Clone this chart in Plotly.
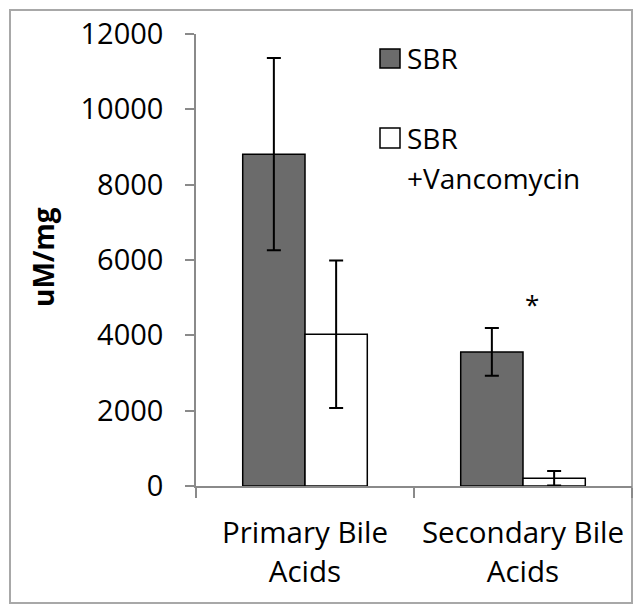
import plotly.graph_objects as go

# ---- data ----
categories = ["Primary Bile<br>Acids", "Secondary Bile<br>Acids"]
series_names = ["SBR", "SBR", "+Vancomycin"]
sbr_values = [8810, 3560]
sbr_errors = [2550, 635]
vanc_values = [4030, 205]
vanc_errors = [1960, 195]
y_ticks = [0, 2000, 4000, 6000, 8000, 10000, 12000]
y_tick_labels = ["0", "2000", "4000", "6000", "8000", "10000", "12000"]
y_title = "uM/mg"
sig_category = categories[1]
sig_value = 4885
sig_label = "*"

# ---- layout geometry (pixels, in page coordinates) ----
OFF = 8                     # default body margin of the html page
W, H = 641 - OFF, 612 - OFF  # figure size so the page fits the window
L, R, T, B = 196, 632, 34, 486  # plot area edges on the page


def px_x(p):
    return (p - L) / (R - L)


def px_y(p):
    return (B - p) / (B - T)


FONT = "Open Sans, Liberation Sans, Arial, sans-serif"
DARK = "#6b6b6b"

fig = go.Figure()
fig.add_trace(go.Bar(
    x=categories, y=sbr_values, name=series_names[0],
    marker=dict(color=DARK, line=dict(color="black", width=1.5)),
    error_y=dict(type="data", array=sbr_errors, visible=True,
                 color="black", thickness=2, width=7),
    showlegend=False,
))
fig.add_trace(go.Bar(
    x=categories, y=vanc_values, name=series_names[1] + " " + series_names[2],
    marker=dict(color="white", line=dict(color="black", width=1.5)),
    error_y=dict(type="data", array=vanc_errors, visible=True,
                 color="black", thickness=2, width=7),
    showlegend=False,
))

annotations = [
    # y title
    dict(x=px_x(43), y=px_y(257), xref="paper", yref="paper",
         text="<b>" + y_title + "</b>", textangle=-90, showarrow=False,
         font=dict(family=FONT, size=28, color="black"),
         xanchor="center", yanchor="middle"),
    # significance marker
    dict(x=sig_category, y=sig_value, xref="x", yref="y", text=sig_label,
         showarrow=False, xshift=9, yshift=-2, font=dict(family=FONT, size=26, color="black"),
         xanchor="center", yanchor="middle"),
    # legend texts
    dict(x=px_x(405), y=px_y(58), xref="paper", yref="paper", text=series_names[0],
         showarrow=False, xanchor="left", yanchor="middle",
         font=dict(family=FONT, size=28, color="black")),
    dict(x=px_x(405), y=px_y(138), xref="paper", yref="paper", text=series_names[1],
         showarrow=False, xanchor="left", yanchor="middle",
         font=dict(family=FONT, size=28, color="black")),
    dict(x=px_x(405), y=px_y(178), xref="paper", yref="paper", text=series_names[2],
         showarrow=False, xanchor="left", yanchor="middle",
         font=dict(family=FONT, size=28, color="black")),
]

shapes = [
    # outer border
    dict(type="rect", xref="paper", yref="paper",
         x0=px_x(10), x1=px_x(632), y0=px_y(603), y1=px_y(10),
         line=dict(color="#a8a8a8", width=2), fillcolor="rgba(0,0,0,0)", layer="below"),
    # legend swatches
    dict(type="rect", xref="paper", yref="paper",
         x0=px_x(380), x1=px_x(400), y0=px_y(68), y1=px_y(49),
         line=dict(color="black", width=1.5), fillcolor=DARK),
    dict(type="rect", xref="paper", yref="paper",
         x0=px_x(380), x1=px_x(400), y0=px_y(148), y1=px_y(128),
         line=dict(color="black", width=1.5), fillcolor="white"),
]

fig.update_layout(
    width=W, height=H,
    margin=dict(l=L - OFF, r=W - (R - OFF), t=T - OFF, b=H - (B - OFF), pad=0, autoexpand=False),
    paper_bgcolor="white", plot_bgcolor="white",
    barmode="group", bargap=1.5 / 3.5, bargroupgap=0,
    font=dict(family=FONT, size=28, color="black"),
    annotations=annotations, shapes=shapes,
    showlegend=False,
)
fig.update_xaxes(
    type="category", automargin=False, showgrid=False, showline=True,
    linecolor="#8a8a8a", linewidth=1.5,
    ticks="outside", tickson="boundaries", ticklen=10, tickcolor="#8a8a8a", tickwidth=1.5,
    tickfont=dict(family=FONT, size=29.5, color="black"), ticklabelstandoff=20,
)
fig.update_yaxes(
    range=[0, 12000], tickvals=y_ticks, ticktext=y_tick_labels, automargin=False,
    showgrid=False, zeroline=False,
    showline=True, linecolor="#8a8a8a", linewidth=1.5,
    ticks="outside", ticklen=9, tickcolor="#8a8a8a", tickwidth=1.5,
    tickfont=dict(family=FONT, size=29, color="black"), ticklabelstandoff=16,
)

fig.write_html("out.html")
